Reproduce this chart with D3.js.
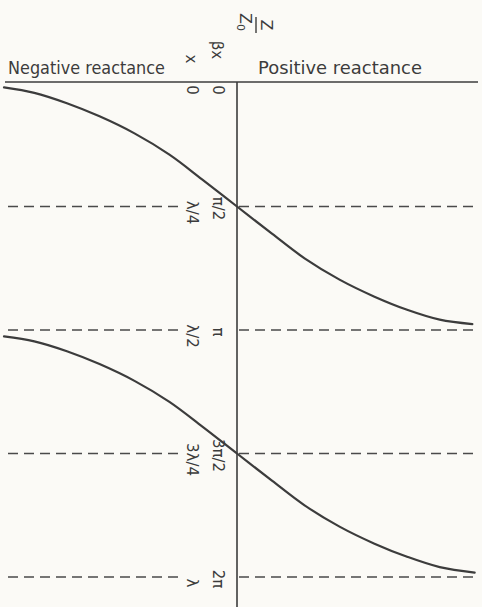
<!DOCTYPE html>
<html>
<head>
<meta charset="utf-8">
<script src="https://cdn.jsdelivr.net/npm/d3@7"></script>
<style>
  html, body { margin: 0; padding: 0; background: #fbfaf6; }
  svg { display: block; }
</style>
</head>
<body>
<svg id="chart" width="482" height="607"></svg>
<script>
// Electrical length βx (in multiples of π) and normalised reactance Z/Z0
// for the two branches of the input-impedance curve.
const curve1Beta  = [0.018, 0.040, 0.082, 0.135, 0.204, 0.290, 0.390, 0.500, 0.610, 0.710, 0.796, 0.865, 0.918, 0.958, 0.976];
const curve1React = [-1.00, -0.87, -0.73, -0.59, -0.44, -0.29, -0.15, 0.00, 0.15, 0.29, 0.44, 0.59, 0.73, 0.87, 1.01];
const curve2Beta  = [1.026, 1.046, 1.086, 1.138, 1.206, 1.291, 1.390, 1.500, 1.610, 1.710, 1.796, 1.865, 1.918, 1.960, 1.982];
const curve2React = [-1.00, -0.87, -0.73, -0.59, -0.44, -0.29, -0.15, 0.00, 0.15, 0.29, 0.44, 0.59, 0.73, 0.87, 1.02];

// Marks along the length axis
const tickBeta = [0, 0.5, 1, 1.5, 2];
const tickBetaLabels = ["0", "π/2", "π", "3π/2", "2π"];
const tickLengthLabels = ["0", "λ/4", "λ/2", "3λ/4", "λ"];

const W = 482, H = 607;
const ink = "#3c3c3c";
const font = "'DejaVu Sans', sans-serif";

const svg = d3.select("#chart");
svg.append("rect").attr("width", W).attr("height", H).attr("fill", "#fbfaf6");

// Reactance runs horizontally, βx runs downward
const x = d3.scaleLinear().domain([-1, 1]).range([4, 470]);
const y = d3.scaleLinear().domain([0, 2]).range([83, 577]);

// Reactance axis (top) and length axis (centre)
svg.append("line")
  .attr("x1", x(-1) + 1).attr("x2", x(1) + 8)
  .attr("y1", y(0) - 1).attr("y2", y(0) - 1)
  .attr("stroke", ink).attr("stroke-width", 1.6);
svg.append("line")
  .attr("x1", x(0)).attr("x2", x(0))
  .attr("y1", y(0) - 1).attr("y2", H)
  .attr("stroke", ink).attr("stroke-width", 1.6);

// Dashed reference lines at multiples of π/2
const dashed = tickBeta.filter(b => b > 0);
const gDash = svg.append("g")
  .attr("stroke", "#4a4a4a").attr("stroke-width", 1.5)
  .attr("stroke-dasharray", "10,6");
gDash.selectAll("line.l").data(dashed).join("line").attr("class", "l")
  .attr("x1", 8).attr("x2", 182)
  .attr("y1", d => y(d)).attr("y2", d => y(d));
gDash.selectAll("line.r").data(dashed).join("line").attr("class", "r")
  .attr("x1", x(0) + 2).attr("x2", 478)
  .attr("y1", d => y(d)).attr("y2", d => y(d));

// Impedance branches
const line = d3.line()
  .x(d => x(d[1]))
  .y(d => y(d[0]))
  .curve(d3.curveCatmullRom.alpha(0.5));
[[curve1Beta, curve1React], [curve2Beta, curve2React]].forEach(([b, r]) => {
  svg.append("path")
    .datum(b.map((v, i) => [v, r[i]]))
    .attr("d", line)
    .attr("fill", "none")
    .attr("stroke", ink)
    .attr("stroke-width", 2.2)
    .attr("stroke-linecap", "round");
});

// Rotated labels for βx and x along the length axis
function vlabel(tx, ty, text, size) {
  return svg.append("text")
    .attr("transform", `translate(${tx},${ty}) rotate(90)`)
    .attr("text-anchor", "middle")
    .attr("font-family", font)
    .attr("font-size", size)
    .attr("fill", ink)
    .text(text);
}
tickBeta.forEach((b, i) => {
  vlabel(213, Math.max(y(b) + 2, 90), tickBetaLabels[i], 15);
  vlabel(187, Math.max(y(b) + 6, 90), tickLengthLabels[i], 15);
});

// Header text
svg.append("text")
  .attr("x", 8).attr("y", 74)
  .attr("font-family", font).attr("font-size", 17).attr("fill", ink)
  .attr("textLength", 157).attr("lengthAdjust", "spacingAndGlyphs")
  .text("Negative reactance");
svg.append("text")
  .attr("x", 258).attr("y", 74)
  .attr("font-family", font).attr("font-size", 17).attr("fill", ink)
  .attr("textLength", 164).attr("lengthAdjust", "spacingAndGlyphs")
  .text("Positive reactance");

vlabel(186, 59, "x", 15);
vlabel(212, 50, "βx", 15);

// Z / Z0 written as a stacked fraction, turned on its side
const frac = svg.append("g")
  .attr("transform", "translate(256,25) rotate(90)")
  .attr("font-family", font).attr("font-size", 16).attr("fill", ink)
  .attr("text-anchor", "middle");
frac.append("text").attr("x", 0).attr("y", -5).text("Z");
frac.append("line").attr("x1", -8).attr("x2", 8).attr("y1", 0).attr("y2", 0)
  .attr("stroke", ink).attr("stroke-width", 1.4);
const den = frac.append("text").attr("x", -3).attr("y", 16);
den.append("tspan").text("Z");
den.append("tspan").attr("font-size", 11).attr("dy", 3).text("0");
</script>
</body>
</html>
